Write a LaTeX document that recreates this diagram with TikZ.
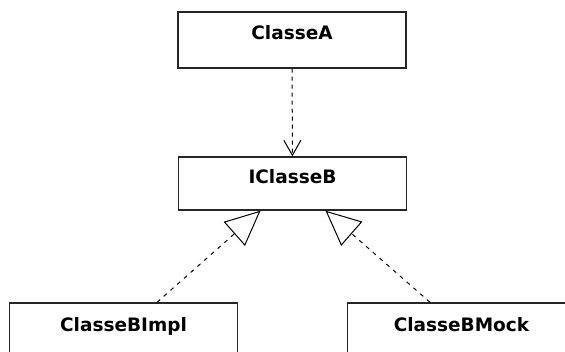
\documentclass[tikz,border=0pt]{standalone}
\usepackage{fontspec}
\newfontfamily\umlfont{DejaVu Sans}
\usetikzlibrary{positioning,arrows.meta}
\tikzset{
  classbox/.style={draw=black!85,line width=1.4pt,minimum width=228pt,minimum height=56pt,
    inner sep=0pt,text height=0pt,text depth=0pt,
    font=\umlfont\bfseries\fontsize{18.5}{20}\selectfont},
  dep/.style={line width=1pt,dash pattern=on 4pt off 4pt,
    -{Straight Barb[length=15pt,width=17pt,line width=1pt]}},
  realize/.style={line width=1pt,dash pattern=on 4pt off 5pt,
    -{Triangle[open,length=35pt,width=32pt,line width=1pt]}},
}

\begin{document}
\begin{tikzpicture}[x=1pt,y=-1pt]
  \useasboundingbox (0,0) rectangle (565,352);
  \clip (0,0) rectangle (565,352);
  \node[classbox] (ca) at (292,40) {ClasseA};
  \node[classbox,minimum height=53pt] (icb) at (292.5,183.5) {IClasseB};
  \node[classbox,minimum height=58pt] (impl) at (123.5,332) {ClasseBImpl};
  \node[classbox,minimum height=58pt] (mock) at (461.5,332) {ClasseBMock};
  \draw[dep] (ca) -- (icb);
  \draw[realize] ([xshift=33.5pt]impl.north) -- ([xshift=-32pt]icb.south);
  \draw[realize] ([xshift=-31.5pt]mock.north) -- ([xshift=33pt]icb.south);
\end{tikzpicture}
\end{document}
